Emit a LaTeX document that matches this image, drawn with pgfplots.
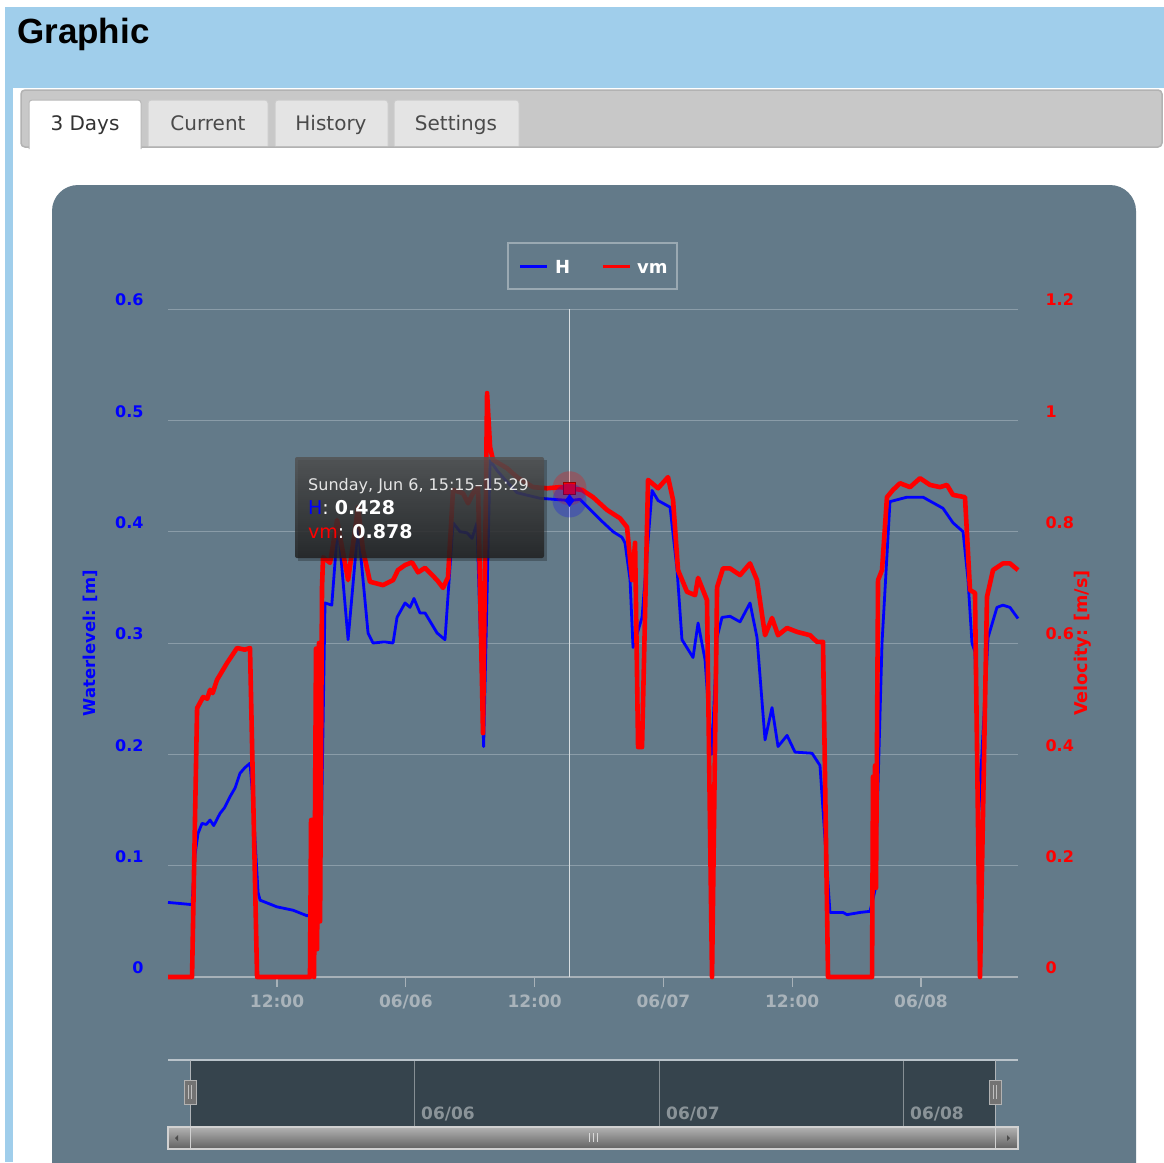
\documentclass[border=0pt]{standalone}
\usepackage{pgfplots}
\pgfplotsset{compat=1.18}
\usepackage{pgfplotstable}
\usepackage{fontspec}
\setmainfont{DejaVu Sans}
\newfontfamily\arialfont{Liberation Sans}
\definecolor{hdr}{HTML}{A0CEEB}
\definecolor{chartbg}{HTML}{637A89}
\definecolor{gridc}{HTML}{8A9CA8}
\definecolor{axisc}{HTML}{A7B1B8}
\definecolor{navdark}{HTML}{36444D}
\definecolor{ticklab}{HTML}{A9B3BA}
\definecolor{hblue}{HTML}{0000FF}
\definecolor{vred}{HTML}{FF0000}
\definecolor{tabbar}{HTML}{C8C8C8}
\definecolor{tabinact}{HTML}{E4E4E4}
\definecolor{tabtext}{HTML}{4A4A4A}
\newcommand\fs[1]{\fontsize{#1pt}{#1pt}\selectfont}

% H: water level [m], time in hours since 06/05 00:00
\pgfplotstableread{
h H
1.84 0.067
3.00 0.066
4.08 0.065
4.36 0.110
4.64 0.129
5.01 0.138
5.40 0.137
5.76 0.141
6.10 0.136
6.69 0.147
7.10 0.152
7.62 0.162
8.10 0.170
8.55 0.183
9.00 0.188
9.48 0.192
9.67 0.170
10.23 0.076
10.42 0.069
12.00 0.063
13.49 0.060
14.80 0.055
15.82 0.059
16.10 0.114
16.47 0.336
17.10 0.334
17.68 0.408
18.62 0.303
19.55 0.404
20.48 0.309
20.94 0.300
22.00 0.301
22.81 0.300
23.18 0.323
23.93 0.336
24.39 0.332
24.76 0.340
25.32 0.327
25.79 0.327
26.91 0.309
27.65 0.303
28.40 0.408
29.05 0.400
29.70 0.399
30.17 0.394
30.63 0.408
31.25 0.207
31.85 0.464
32.50 0.455
33.40 0.445
34.36 0.435
36.50 0.430
39.25 0.428
40.23 0.429
42.09 0.411
43.31 0.400
44.14 0.395
44.42 0.390
44.89 0.357
45.17 0.296
46.01 0.323
46.94 0.437
47.50 0.428
48.62 0.422
49.27 0.366
49.73 0.303
50.76 0.287
51.23 0.318
51.88 0.285
52.50 0.200
53.00 0.305
53.46 0.323
54.21 0.324
55.14 0.319
56.07 0.336
56.72 0.305
57.47 0.213
58.12 0.242
58.68 0.207
59.52 0.217
60.26 0.202
61.85 0.201
62.59 0.190
63.52 0.058
64.73 0.058
65.11 0.056
66.32 0.058
67.25 0.059
67.72 0.078
68.37 0.300
69.11 0.427
70.70 0.431
72.19 0.431
73.12 0.426
74.05 0.421
74.98 0.408
75.92 0.400
76.38 0.357
76.75 0.300
77.03 0.292
77.40 0.150
78.25 0.305
79.08 0.332
79.64 0.334
80.29 0.332
81.04 0.322
}\tabH

% vm: velocity [m/s]
\pgfplotstableread{
h vm
1.84 0
4.08 0
4.55 0.483
5.11 0.503
5.50 0.500
5.76 0.516
6.00 0.510
6.41 0.534
7.34 0.564
8.27 0.591
9.00 0.588
9.48 0.591
10.14 0
15.07 0
15.17 0.282
15.35 0.282
15.45 0
15.63 0.590
15.73 0.050
15.91 0.600
16.01 0.100
16.19 0.700
16.29 0.754
16.94 0.744
17.59 0.821
18.62 0.713
19.55 0.844
20.01 0.767
20.66 0.710
21.88 0.704
22.81 0.713
23.27 0.731
23.93 0.740
24.58 0.745
25.14 0.727
25.79 0.735
26.91 0.713
27.47 0.699
27.93 0.718
28.40 0.875
29.33 0.869
29.80 0.851
30.26 0.869
30.73 0.880
31.19 0.438
31.57 1.049
31.85 0.952
32.12 0.929
33.43 0.914
34.36 0.898
35.85 0.880
37.16 0.878
38.37 0.880
39.25 0.878
40.42 0.875
41.44 0.862
42.75 0.839
43.96 0.824
44.61 0.808
45.08 0.713
45.36 0.780
45.64 0.413
46.01 0.413
46.57 0.893
47.50 0.878
48.43 0.898
48.90 0.857
49.36 0.731
50.20 0.692
50.95 0.686
51.23 0.717
52.06 0.677
52.53 0
53.00 0.700
53.55 0.734
54.21 0.734
55.14 0.722
56.07 0.743
56.72 0.713
57.47 0.614
58.12 0.645
58.68 0.614
59.52 0.627
60.45 0.620
61.66 0.614
62.31 0.602
62.87 0.602
63.34 0
67.44 0
67.53 0.360
67.62 0.160
67.72 0.380
67.81 0.160
68.00 0.713
68.37 0.731
68.83 0.862
69.39 0.875
70.05 0.887
70.98 0.880
71.91 0.896
72.84 0.884
73.77 0.880
74.42 0.884
74.98 0.866
76.10 0.862
76.57 0.695
77.03 0.690
77.50 0
78.15 0.683
78.71 0.731
79.64 0.743
80.29 0.743
81.04 0.731
}\tabV

\pgfplotsset{
  base/.style={
    at={(168pt,-977pt)}, anchor=south west,
    width=850pt, height=668pt, scale only axis,
    xmin=1.84, xmax=81.04, clip=false,
  }
}

\begin{document}
\begin{tikzpicture}[x=1pt,y=1pt]
\useasboundingbox (0,0) rectangle (1164,-1162);
\fill[white] (0,0) rectangle (1164,-1162);
\fill[hdr] (5,-7) rectangle (1164,-88);
\fill[hdr] (5,-88) rectangle (13,-1162);
\node[anchor=base west, font=\arialfont\bfseries\fs{35}, inner sep=0pt] at (17,-43) {Graphic};
% tab bar
\filldraw[fill=tabbar, draw=white!70!black, line width=1.5pt, rounded corners=4pt] (21,-90) rectangle (1162,-147);
\fill[white] (13,-148) rectangle (1164,-1162);
\filldraw[fill=white, draw=white!72!black, line width=1pt, rounded corners=3pt] (29,-149) |- (141,-100) -- (141,-149);
\filldraw[fill=tabinact, draw=white!80!black, line width=1pt, rounded corners=3pt] (148,-146) |- (268,-100) -- (268,-146);
\filldraw[fill=tabinact, draw=white!80!black, line width=1pt, rounded corners=3pt] (275,-146) |- (388,-100) -- (388,-146);
\filldraw[fill=tabinact, draw=white!80!black, line width=1pt, rounded corners=3pt] (394,-146) |- (519,-100) -- (519,-146);
\node[anchor=base, font=\fs{20}, text=black!80, inner sep=0pt] at (85,-130) {3 Days};
\node[anchor=base, font=\fs{20}, text=tabtext, inner sep=0pt] at (208,-130) {Current};
\node[anchor=base, font=\fs{20}, text=tabtext, inner sep=0pt] at (331,-130) {History};
\node[anchor=base, font=\fs{20}, text=tabtext, inner sep=0pt] at (456,-130) {Settings};
% chart panel
\fill[chartbg, rounded corners=26pt] (52,-185) rectangle (1136,-1210);

% axis 1: water level
\begin{axis}[base, ymin=0, ymax=0.6,
  axis x line*=bottom, axis y line*=left,
  x axis line style={draw=axisc, line width=1.3pt, -},
  y axis line style={draw=none},
  xtick={12,24,36,48,60,72},
  xticklabels={12:00,06/06,12:00,06/07,12:00,06/08},
  ytick={0,0.1,0.2,0.3,0.4,0.5,0.6},
  yticklabels={0,0.1,0.2,0.3,0.4,0.5,0.6},
  tick align=outside, major tick length=10pt,
  xtick style={draw=axisc, line width=1.3pt},
  ytick style={draw=none},
  ymajorgrids, grid style={draw=gridc, line width=1pt},
  xticklabel style={font=\bfseries\fs{17}, text=ticklab, yshift=-4pt},
  yticklabel style={font=\bfseries\fs{16}, text=hblue, anchor=east, yshift=9pt, xshift=-11pt},
]
\draw[draw=white!75!chartbg, line width=1pt] (axis cs:39.25,0) -- (axis cs:39.25,0.6);
\addplot[hblue, line width=2.8pt, line join=round] table[x=h, y=H] {\tabH};
\end{axis}

% axis 2: velocity
\begin{axis}[base, ymin=0, ymax=1.2,
  axis x line=none, axis y line*=right,
  y axis line style={draw=none},
  ytick={0,0.2,0.4,0.6,0.8,1.0,1.2},
  yticklabels={0,0.2,0.4,0.6,0.8,1,1.2},
  tick align=outside, major tick length=10pt,
  ytick style={draw=none},
  yticklabel style={font=\bfseries\fs{16}, text=vred, anchor=west, yshift=9pt, xshift=14pt},
]
\addplot[vred, line width=4.6pt, line join=round] table[x=h, y=vm] {\tabV};
\addplot[only marks, mark=*, mark size=17pt, vred, fill opacity=0.25, draw opacity=0] coordinates {(39.25,0.878)};
\addplot[only marks, mark=square*, mark size=6pt, vred, mark options={draw=red!60!black}] coordinates {(39.25,0.878)};
\end{axis}

% axis 3: hover marker for H
\begin{axis}[base, ymin=0, ymax=0.6, hide axis]
\addplot[only marks, mark=*, mark size=17pt, hblue, fill opacity=0.25, draw opacity=0] coordinates {(39.25,0.428)};
\addplot[only marks, mark=diamond*, mark size=6pt, hblue] coordinates {(39.25,0.428)};
\end{axis}

% axis titles
\node[rotate=90, font=\bfseries\fs{16.4}, text=hblue] at (90,-643) {Waterlevel: [m]};
\node[rotate=90, font=\bfseries\fs{17.6}, text=vred] at (1083,-643) {Velocity: [m/s]};

% legend
\draw[draw=white!35!chartbg, line width=1.2pt] (508,-243) rectangle (677,-289);
\draw[hblue, line width=3pt] (520,-266) -- (547,-266);
\node[anchor=base west, font=\bfseries\fs{18}, text=white, inner sep=0pt] at (555,-273) {H};
\draw[vred, line width=3pt] (603,-266) -- (630,-266);
\node[anchor=base west, font=\bfseries\fs{18}, text=white, inner sep=0pt] at (637,-273) {vm};

% tooltip
\fill[black, opacity=0.25] (298,-460) rectangle (547,-561);
\shade[top color=black!68, bottom color=black!88, fill opacity=0.82, rounded corners=2pt] (295,-457) rectangle (544,-558);
\node[anchor=base west, font=\fs{16}, text=white!90!black, inner sep=0pt] at (308,-490) {Sunday, Jun 6, 15:15\textendash15:29};
\node[anchor=base west, font=\fs{19}, text=white, inner sep=0pt] at (308,-514) {\textcolor{hblue}{H}: \textbf{0.428}};
\node[anchor=base west, font=\fs{19}, text=white, inner sep=0pt] at (308,-538) {\textcolor{vred}{vm}: \textbf{0.878}};

% navigator
\draw[draw=white!55!chartbg, line width=1.5pt] (168,-1060) -- (1018,-1060);
\fill[navdark] (190,-1061) rectangle (995,-1126);
\foreach \xx in {414,659,903} \draw[draw=white!40!navdark, line width=0.8pt] (\xx,-1061) -- (\xx,-1126);
\draw[draw=white!60!navdark, line width=1pt] (190,-1060) -- (190,-1126);
\draw[draw=white!60!navdark, line width=1pt] (995,-1060) -- (995,-1126);
\node[anchor=base west, font=\bfseries\fs{17}, text=white!42!navdark, inner sep=0pt] at (421,-1119) {06/06};
\node[anchor=base west, font=\bfseries\fs{17}, text=white!42!navdark, inner sep=0pt] at (666,-1119) {06/07};
\node[anchor=base west, font=\bfseries\fs{17}, text=white!42!navdark, inner sep=0pt] at (910,-1119) {06/08};
\foreach \xx in {190,995} {
  \filldraw[fill=black!55, draw=white!70!black, line width=1pt] (\xx-6,-1080) rectangle (\xx+6,-1104);
  \draw[white!75!black, line width=0.7pt] (\xx-1.5,-1085) -- (\xx-1.5,-1099);
  \draw[white!75!black, line width=0.7pt] (\xx+1.5,-1085) -- (\xx+1.5,-1099);
}
% scrollbar
\shade[top color=black!30, bottom color=black!62] (168,-1127) rectangle (1018,-1149);
\draw[draw=white!82!black, line width=1.2pt] (168,-1127) rectangle (1018,-1149);
\draw[draw=white!82!black, line width=1pt] (190,-1127) -- (190,-1149);
\draw[draw=white!82!black, line width=1pt] (995,-1127) -- (995,-1149);
\fill[black!70] (175,-1138) -- (178,-1135) -- (178,-1141) -- cycle;
\fill[black!70] (1010,-1138) -- (1007,-1135) -- (1007,-1141) -- cycle;
\foreach \xx in {589,593,597} \draw[white!85!black, line width=1pt] (\xx,-1133) -- (\xx,-1142);
\end{tikzpicture}
\end{document}
